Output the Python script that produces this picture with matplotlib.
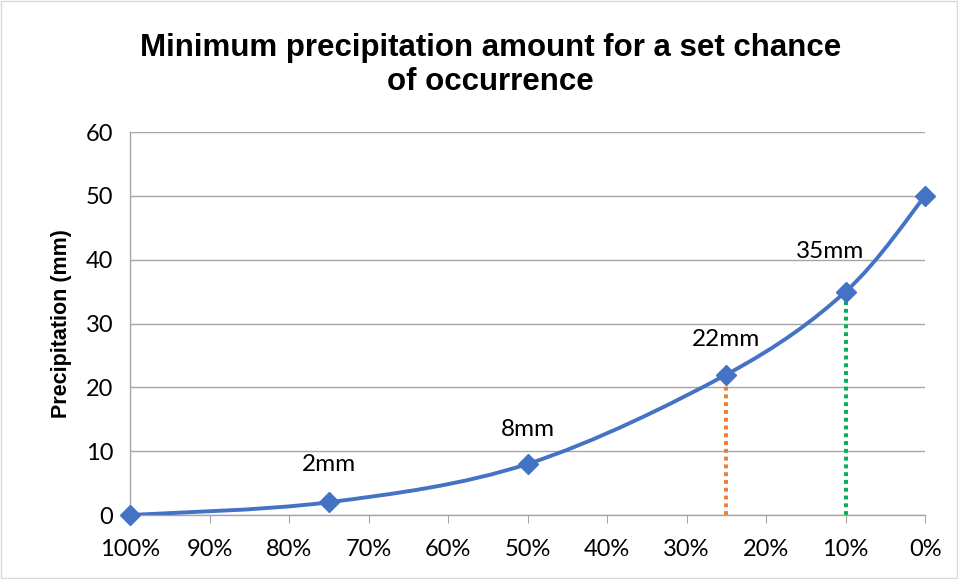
import matplotlib
matplotlib.use("Agg")
import matplotlib.pyplot as plt
import numpy as np
from matplotlib.path import Path
from matplotlib.patches import PathPatch, Rectangle
from matplotlib.ticker import FuncFormatter

# chance of occurrence (%) and minimum precipitation (mm)
chance = [100, 75, 50, 25, 10, 0]
precip = [0, 2, 8, 22, 35, 50]
labels = ["", "2mm", "8mm", "22mm", "35mm", ""]
label_pos = [None, (75, 6.3), (50, 11.8), (25, 25.8), (12, 39.6), None]
drop_x = [25, 10]
drop_y = [22, 35]
drop_colors = ["#ED7D31", "#00B050"]

BLUE = "#4472C4"
TICK_FONT = "Lato"


def smooth_path(xs, ys):
    # Excel-style smoothed line: cubic Bezier segments with 1/6 neighbour tangents
    pts = np.column_stack([xs, ys]).astype(float)
    n = len(pts)
    verts = [pts[0]]
    codes = [Path.MOVETO]
    for i in range(n - 1):
        p0 = pts[i - 1] if i > 0 else pts[i]
        p1, p2 = pts[i], pts[i + 1]
        p3 = pts[i + 2] if i + 2 < n else pts[i + 1]
        c1 = p1 + (p2 - p0) / 6.0
        c2 = p2 - (p3 - p1) / 6.0
        verts += [c1, c2, p2]
        codes += [Path.CURVE4] * 3
    return Path(verts, codes)


fig = plt.figure(figsize=(9.58, 5.79), dpi=100)
ax = fig.add_axes([0.1357, 0.1105, 0.83, 0.6615])

for x, y, c in zip(drop_x, drop_y, drop_colors):
    ax.plot([x, x], [0, y], color=c, lw=2.8, ls=(0, (1, 1)), zorder=2)

ax.add_patch(PathPatch(smooth_path(chance, precip), fill=False,
                       edgecolor=BLUE, lw=2.8, zorder=3))
ax.plot(chance, precip, ls="none", marker="D", ms=10, color=BLUE, zorder=4,
        clip_on=False)

for txt, pos in zip(labels, label_pos):
    if pos is None:
        continue
    ax.text(pos[0], pos[1], txt, ha="center", va="bottom",
            fontsize=17.5, family=TICK_FONT, color="#000000", zorder=5)

ax.set_xlim(100, 0)
ax.set_ylim(0, 60)
ax.set_xticks(range(100, -1, -10))
ax.set_yticks(range(0, 61, 10))
ax.xaxis.set_major_formatter(FuncFormatter(lambda v, _: f"{v:.0f}%"))
ax.grid(axis="y", color="#A6A6A6", lw=1.0)
ax.set_axisbelow(True)
for s in ["top", "right"]:
    ax.spines[s].set_visible(False)
for s in ["left", "bottom"]:
    ax.spines[s].set_color("#A6A6A6")
    ax.spines[s].set_linewidth(1.0)
ax.tick_params(axis="x", direction="out", length=6, color="#A6A6A6",
               labelsize=17, pad=11)
ax.tick_params(axis="y", length=0, labelsize=17, pad=12)
for lab in ax.get_xticklabels() + ax.get_yticklabels():
    lab.set_family(TICK_FONT)

ax.set_ylabel("Precipitation (mm)", fontsize=15.5, fontweight="bold",
              family="Liberation Sans", labelpad=10)

fig.text(0.512, 0.888, "Minimum precipitation amount for a set chance\nof occurrence",
         ha="center", va="center", fontsize=22.5, fontweight="bold",
         family="Liberation Sans", linespacing=1.15)

fig.patches.append(Rectangle((0.001, 0.001), 0.998, 0.997, transform=fig.transFigure,
                             fill=False, edgecolor="#D9D9D9", lw=1.0))

fig.savefig("out.png", dpi=100)
